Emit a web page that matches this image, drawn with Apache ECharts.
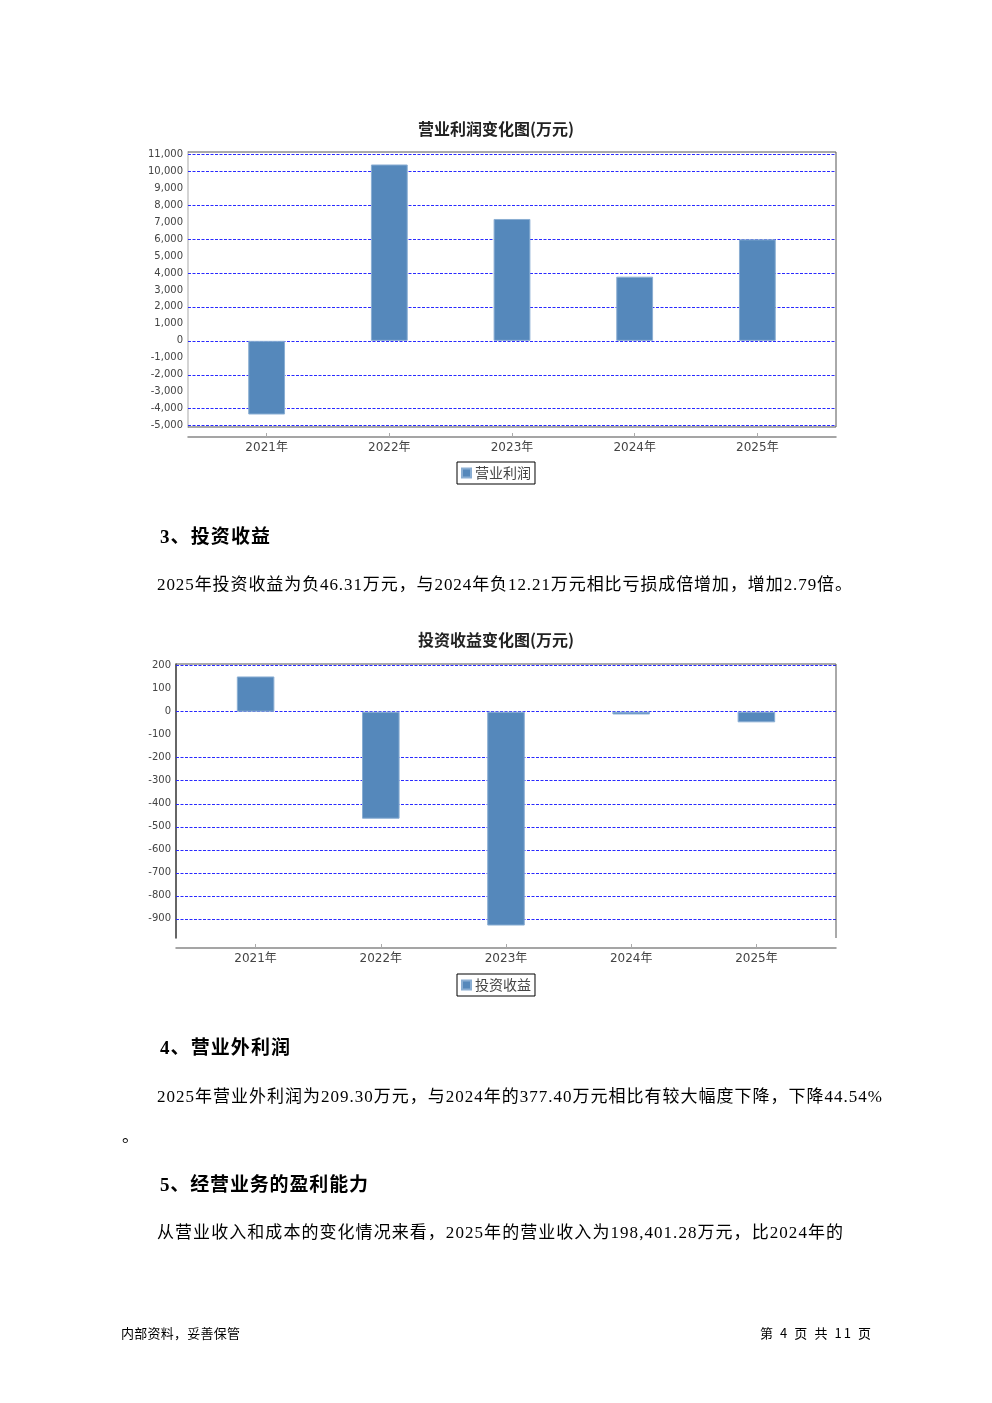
<!DOCTYPE html>
<html><head><meta charset="utf-8">
<script src="https://cdn.jsdelivr.net/npm/echarts@6/dist/echarts.min.js"></script>
<style>
html,body{margin:0;padding:0;background:#fff;}
#page{position:relative;width:992px;height:1403px;overflow:hidden;background:#fff;}
#chart{position:absolute;left:0;top:0;width:992px;height:1403px;}
.t{position:absolute;white-space:nowrap;line-height:24px;color:#000;font-family:"Liberation Serif","Noto Sans CJK SC",serif;}
.h{font-size:19px;font-weight:bold;}
.b{font-size:17px;}
.f{font-size:13px;font-family:"Noto Sans CJK SC",sans-serif;}
</style></head>
<body><div id="page"><div id="chart"></div>
<div class="t h" data-w="110" style="left:160px;top:525px">3、投资收益</div>
<div class="t b" data-w="695" style="left:157px;top:573px">2025年投资收益为负46.31万元，与2024年负12.21万元相比亏损成倍增加，增加2.79倍。</div>
<div class="t h" data-w="130" style="left:160px;top:1036px">4、营业外利润</div>
<div class="t b" data-w="725" style="left:157px;top:1085px">2025年营业外利润为209.30万元，与2024年的377.40万元相比有较大幅度下降，下降44.54%</div>
<div class="t b" style="left:122px;top:1125px">。</div>
<div class="t h" data-w="208" style="left:160px;top:1173px">5、经营业务的盈利能力</div>
<div class="t b" data-w="686" style="left:157px;top:1221px">从营业收入和成本的变化情况来看，2025年的营业收入为198,401.28万元，比2024年的</div>
<div class="t f" data-w="119" style="left:121px;top:1321px">内部资料，妥善保管</div>
<div class="t f" data-w="111" style="left:760px;top:1321px">第 4 页 共 11 页</div>
</div>
<script>
// ---- data ----
const categories = ['2021年','2022年','2023年','2024年','2025年'];
const operatingProfit = [-4340, 10390, 7180, 3780, 5980];
const investmentIncome = [153, -465, -929, -12.21, -46.31];
const profitTicks = [-5000,-4000,-3000,-2000,-1000,0,1000,2000,3000,4000,5000,6000,7000,8000,9000,10000,11000];
const profitGridLines = [-5000,-4000,-2000,0,2000,4000,6000,8000,10000,11000];
const incomeTicks = [-900,-800,-700,-600,-500,-400,-300,-200,-100,0,100,200];
const incomeGridLines = [-900,-800,-700,-600,-500,-400,-300,-200,0,200];

// ---- text fitting ----
document.querySelectorAll('[data-w]').forEach(el => {
  const target = +el.dataset.w;
  const n = [...el.textContent].length;
  const w = el.getBoundingClientRect().width;
  el.style.letterSpacing = ((target - w) / (n - 1)) + 'px';
});

// ---- layout ----
const L1 = {x:188, y:152, w:648, h:275, inset:17.3};
const L2 = {x:176, y:664, w:660, h:274, inset:17};
const BAR = '#5588bb';
const GRID = '#2a2aff';

function extent(vals){
  const mn = Math.min(...vals), mx = Math.max(...vals), m = (mx - mn) * 0.05;
  return [mn - m, mx + m];
}
const e1 = extent(operatingProfit), e2 = extent(investmentIncome);
const fmt = v => v.toLocaleString('en-US');

function gridMarkLine(ticks, lines){
  return {
    silent: true, symbol: ['none','none'], animation: false,
    label: {show: true, position: 'start', distance: 5, color: '#444', fontSize: 10, fontFamily: 'DejaVu Sans'},
    emphasis: {disabled: true},
    data: ticks.map(v => ({
      yAxis: v,
      label: {formatter: fmt(v)},
      lineStyle: {color: lines.includes(v) ? GRID : 'rgba(0,0,0,0)', type: [3,1.5], width: 1.2}
    }))
  };
}

function xAxes(gi){
  return [
    {gridIndex: gi, type: 'category', data: categories, offset: 10,
     axisLine: {show: true, onZero: false, lineStyle: {color: '#888', width: 1.5}}, axisTick: {show: false}, axisLabel: {show: false}},
    {gridIndex: gi + 1, type: 'category', data: categories, offset: 10,
     axisLine: {show: false, onZero: false},
     axisTick: {show: true, inside: true, length: 4, alignWithLabel: true, lineStyle: {color: '#aaa'}},
     axisLabel: {margin: 5, fontSize: 12, color: '#444', fontFamily: 'DejaVu Sans, Noto Sans CJK SC'}}
  ];
}
function yAxes(e, gi, lineColor, lineWidth){
  return [
    {gridIndex: gi, type: 'value', min: e[0], max: e[1], splitLine: {show: false},
     axisLabel: {show: false}, axisTick: {show: false},
     axisLine: {show: true, onZero: false, lineStyle: {color: lineColor, width: lineWidth}}},
    {gridIndex: gi + 1, type: 'value', min: e[0], max: e[1], show: false, splitLine: {show: false}}
  ];
}
function line(x1,y1,x2,y2,color,w){
  return {type: 'line', shape: {x1,y1,x2,y2}, style: {stroke: color, lineWidth: w}, z: 10, silent: true};
}

const chart = echarts.init(document.getElementById('chart'), null, {renderer: 'canvas'});
chart.setOption({
  animation: false,
  backgroundColor: 'transparent',
  title: [
    {text: '营业利润变化图(万元)', left: 'center', top: 121, padding: 0,
     textStyle: {fontSize: 16, fontWeight: 'bold', color: '#222', fontFamily: 'Noto Sans CJK SC'}},
    {text: '投资收益变化图(万元)', left: 'center', top: 632, padding: 0,
     textStyle: {fontSize: 16, fontWeight: 'bold', color: '#222', fontFamily: 'Noto Sans CJK SC'}}
  ],
  legend: [
    {data: ['营业利润'], left: 'center', top: 462, padding: [3,4], itemWidth: 9, itemHeight: 9, itemGap: 5,
     icon: 'rect', borderColor: '#000', borderWidth: 1, selectedMode: false,
     textStyle: {fontSize: 14, color: '#444', fontFamily: 'Noto Sans CJK SC', lineHeight: 16, padding: [0,0,0,-1]}},
    {data: ['投资收益'], left: 'center', top: 974, padding: [3,4], itemWidth: 9, itemHeight: 9, itemGap: 5,
     icon: 'rect', borderColor: '#000', borderWidth: 1, selectedMode: false,
     textStyle: {fontSize: 14, color: '#444', fontFamily: 'Noto Sans CJK SC', lineHeight: 16, padding: [0,0,0,-1]}}
  ],
  grid: [
    {left: L1.x, top: L1.y, width: L1.w, height: L1.h, containLabel: false},
    {left: L1.x + L1.inset, top: L1.y, width: L1.w - 2*L1.inset, height: L1.h, containLabel: false},
    {left: L2.x, top: L2.y, width: L2.w, height: L2.h, containLabel: false},
    {left: L2.x + L2.inset, top: L2.y, width: L2.w - 2*L2.inset, height: L2.h, containLabel: false}
  ],
  xAxis: [...xAxes(0), ...xAxes(2)],
  yAxis: [...yAxes(e1, 0, '#d4d4d4', 2), ...yAxes(e2, 2, '#333', 1.5)],
  series: [
    {type: 'line', name: 'grid1', xAxisIndex: 0, yAxisIndex: 0, data: [], z: 1,
     markLine: gridMarkLine(profitTicks, profitGridLines)},
    {type: 'bar', name: '营业利润', xAxisIndex: 1, yAxisIndex: 1, data: operatingProfit, barWidth: '30%', z: 5,
     itemStyle: {color: BAR, borderColor: '#8aaed3', borderWidth: 1}},
    {type: 'line', name: 'grid2', xAxisIndex: 2, yAxisIndex: 2, data: [], z: 1,
     markLine: gridMarkLine(incomeTicks, incomeGridLines)},
    {type: 'bar', name: '投资收益', xAxisIndex: 3, yAxisIndex: 3, data: investmentIncome, barWidth: '30%', z: 5,
     itemStyle: {color: BAR, borderColor: '#8aaed3', borderWidth: 1}}
  ],
  graphic: [
    line(L1.x, L1.y, L1.x + L1.w, L1.y, '#555', 1),
    line(L1.x + L1.w, L1.y, L1.x + L1.w, L1.y + L1.h, '#555', 1),
    line(L1.x, L1.y + L1.h, L1.x + L1.w, L1.y + L1.h, '#555', 1),
    line(L2.x, L2.y, L2.x + L2.w, L2.y, '#555', 1),
    line(L2.x + L2.w, L2.y, L2.x + L2.w, L2.y + L2.h, '#555', 1)
  ]
});
</script>
</body></html>
